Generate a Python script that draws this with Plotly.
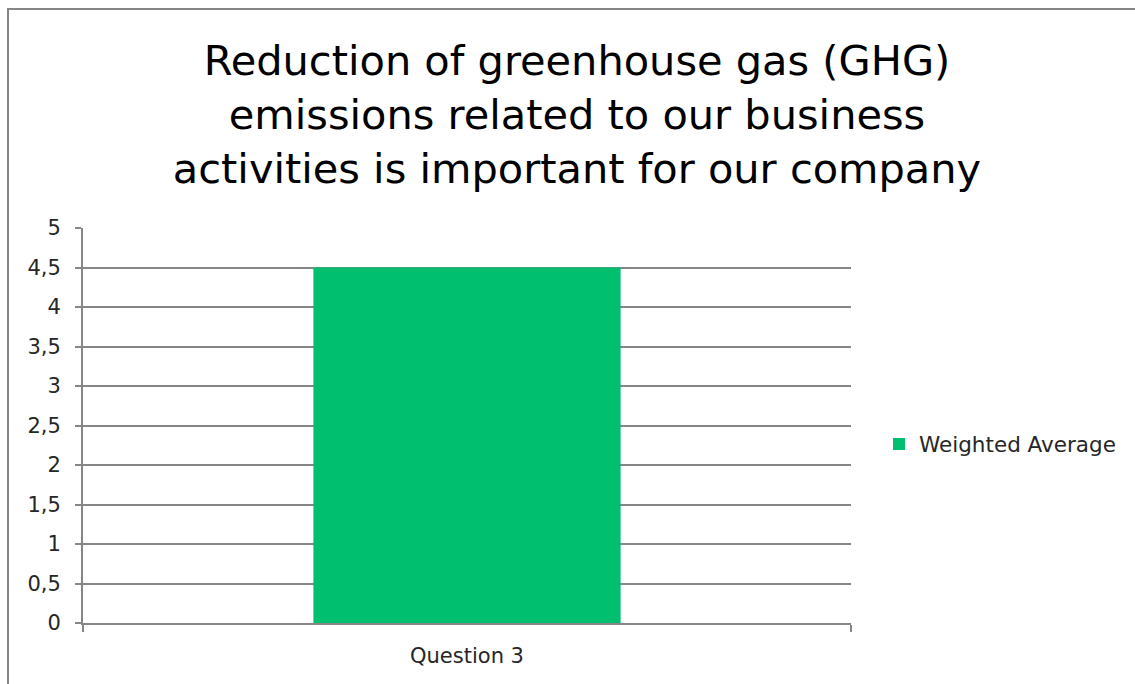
import plotly.graph_objects as go

# Survey result: weighted average score for one question
categories = ["Question 3"]
weighted_average = [4.5]
series_name = "Weighted Average"
title_lines = [
    "Reduction of greenhouse gas (GHG)",
    "emissions related to our business",
    "activities is important for our company",
]

W, H = 1135, 684
ML, MR, MT, MB = 83, 284, 228, 61
PW, PH = W - ML - MR, H - MT - MB

AXIS_GRAY = "#868686"
TEXT_GRAY = "#262626"
FONT = "DejaVu Sans"

fig = go.Figure()
fig.add_trace(go.Bar(
    x=categories,
    y=weighted_average,
    name=series_name,
    marker=dict(color="#00BF6F", line=dict(width=0)),
    width=0.4,
    showlegend=True,
))

def px_to_paper_x(px):
    return (px - ML) / PW

def px_to_paper_y(py):
    return (H - MB - py) / PH

# outer chart frame
fig.add_shape(
    type="rect", xref="paper", yref="paper",
    x0=px_to_paper_x(8), x1=px_to_paper_x(W + 20),
    y0=px_to_paper_y(H + 20), y1=px_to_paper_y(9),
    line=dict(color=AXIS_GRAY, width=2), fillcolor="rgba(0,0,0,0)",
    layer="below",
)

fig.update_layout(
    width=W, height=H,
    margin=dict(l=ML, r=MR, t=MT, b=MB, pad=0),
    paper_bgcolor="white", plot_bgcolor="white",
    separators=", ",
    font=dict(family=FONT, size=21, color=TEXT_GRAY),
    title=dict(
        text="<br>".join(title_lines),
        font=dict(family=FONT, size=41.5, color="black"),
        x=577 / W, xanchor="center", xref="container",
        y=1 - 75 / H, yanchor="middle", yref="container",
    ),
    xaxis=dict(
        showline=True, linecolor=AXIS_GRAY, linewidth=2,
        ticks="outside", tickson="boundaries", ticklen=7,
        tickcolor=AXIS_GRAY, tickwidth=2,
        showgrid=False, zeroline=False,
        tickfont=dict(family=FONT, size=21, color=TEXT_GRAY),
        ticklabelstandoff=13,
    ),
    yaxis=dict(
        range=[0, 5], dtick=0.5, tick0=0,
        showline=True, linecolor=AXIS_GRAY, linewidth=2,
        ticks="outside", ticklen=6, tickcolor=AXIS_GRAY, tickwidth=2,
        showgrid=True, gridcolor=AXIS_GRAY, gridwidth=2,
        zeroline=False,
        tickfont=dict(family=FONT, size=21, color=TEXT_GRAY),
        ticklabelstandoff=10,
    ),
    legend=dict(
        x=px_to_paper_x(879), xanchor="left",
        y=px_to_paper_y(444), yanchor="middle",
        font=dict(family=FONT, size=21.5, color=TEXT_GRAY),
        bgcolor="rgba(0,0,0,0)",
    ),
    bargap=0.6,
)

fig.write_html("out.html")
